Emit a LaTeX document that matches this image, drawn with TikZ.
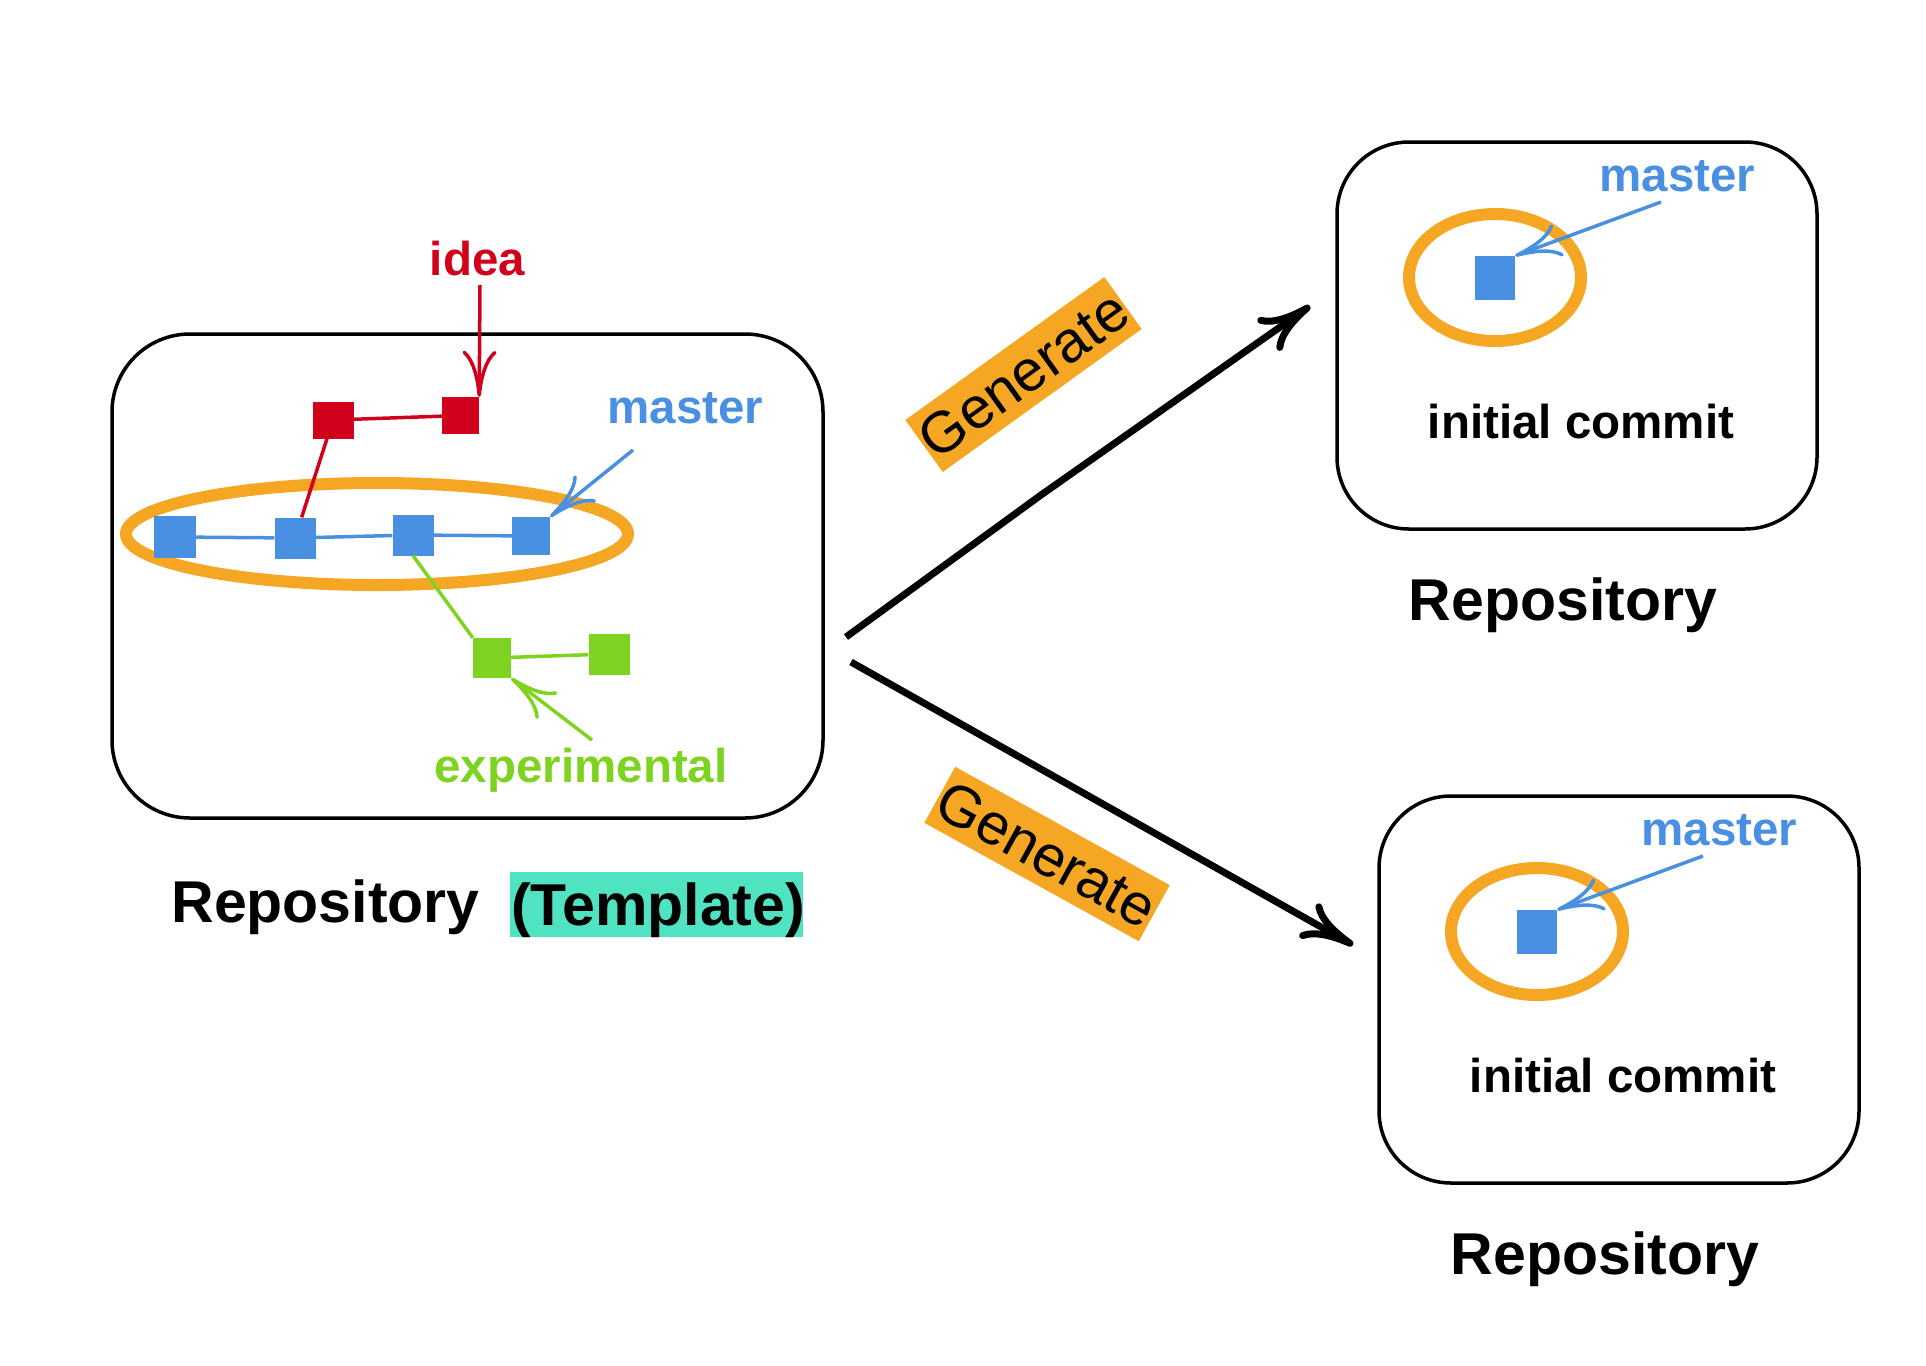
\documentclass[tikz,border=0pt]{standalone}
\usepackage{fontspec}
\setmainfont{Liberation Sans}
\usetikzlibrary{arrows.meta}
\definecolor{cblue}{HTML}{4A90E2}
\definecolor{cred}{HTML}{D0021B}
\definecolor{cgreen}{HTML}{7ED321}
\definecolor{corange}{HTML}{F5A623}
\definecolor{cteal}{HTML}{50E3C2}
\newcommand\fntmed{\fontsize{47.5pt}{57pt}\selectfont\bfseries}
\newcommand\fntbig{\fontsize{59pt}{70pt}\selectfont\bfseries}
\newcommand\fntgen{\fontsize{58pt}{68pt}\selectfont}
\begin{document}
\begin{tikzpicture}[x=1pt,y=-1pt,
  repobox/.style={draw=black, line width=3.5pt, inner sep=0pt},
  commit/.style={inner sep=0pt, draw=none},
  branchline/.style={line width=3.5pt},
  ptr/.style={line width=3.5pt, -{Computer Modern Rightarrow[length=46pt,width=34pt]}},
  bigarr/.style={line width=7pt, -{Computer Modern Rightarrow[length=52pt,width=40pt]}},
  ring/.style={draw=corange, line width=12pt},
  lbl/.style={font=\fntmed, inner sep=0pt, anchor=base},
  title/.style={font=\fntbig, inner sep=0pt, anchor=base},
  gen/.style={fill=corange, font=\fntgen, inner sep=0pt, minimum width=245pt, minimum height=64pt}
]
\useasboundingbox (0,0) rectangle (1926,1365);

% ---------- template repository ----------
\node[repobox, rounded corners=78pt, minimum width=711pt, minimum height=484pt] (tbox) at (467.5,576) {};
\draw[ring] (377,534) ellipse [x radius=251pt, y radius=51pt];

\node[commit, fill=cblue, minimum size=42pt] (b1) at (175,537) {};
\node[commit, fill=cblue, minimum size=41pt] (b2) at (295,538) {};
\node[commit, fill=cblue, minimum size=41pt] (b3) at (413,535) {};
\node[commit, fill=cblue, minimum size=38pt] (b4) at (531,536) {};
\node[commit, fill=cred, minimum width=41pt, minimum height=37pt] (r1) at (333,420) {};
\node[commit, fill=cred, minimum size=37pt] (r2) at (460.5,415.5) {};
\node[commit, fill=cgreen, minimum width=38pt, minimum height=40pt] (g1) at (492,658) {};
\node[commit, fill=cgreen, minimum size=41pt] (g2) at (609,654) {};

\draw[branchline, cblue] (b1) -- (b2) -- (b3) -- (b4);
\draw[branchline, cred] (r1) -- (r2);
\draw[branchline, cred] (r1) -- (b2);
\draw[branchline, cgreen] (b3.south) -- (g1.north west);
\draw[branchline, cgreen] (g1) -- (g2);

\node[lbl, text=cred] (idea) at (477.5,275) {idea};
\node[lbl, text=cblue] (mlabel) at (685.5,423) {master};
\node[lbl, text=cgreen] (elabel) at (581,782) {experimental};

\coordinate (ideatail) at (480,285);
\draw[ptr, cred] (ideatail) -- (r2.north east);
\coordinate (mtail) at (633,450);
\draw[ptr, cblue] (mtail) -- (b4.north east);
\coordinate (etail) at (592,740);
\draw[ptr, cgreen] (etail) -- (g1.south east);

\node[title] (trepo) at (325.5,922) {Repository};
\node[fill=cteal, minimum width=293pt, minimum height=65pt, inner sep=0pt] (tmplbg) at (656.5,904.5) {};
\node[title] (tmpl) at (658,925) {(Template)};

% ---------- generated repository 1 ----------
\node[repobox, rounded corners=72pt, minimum width=480pt, minimum height=387pt] (rbox1) at (1577,335.5) {};
\draw[ring] (1495,277.5) ellipse [x radius=86pt, y radius=63.5pt];
\node[commit, fill=cblue, minimum width=40pt, minimum height=44pt] (c1) at (1495,278) {};
\node[lbl, text=cblue] (m1) at (1677.5,191) {master};
\coordinate (m1tail) at (1661,202);
\draw[ptr, cblue] (m1tail) -- (c1.north east);
\node[lbl] (ic1) at (1581,438) {initial commit};
\node[title] (rp1) at (1563,620) {Repository};

% ---------- generated repository 2 ----------
\node[repobox, rounded corners=72pt, minimum width=480pt, minimum height=387pt] (rbox2) at (1619,989.5) {};
\draw[ring] (1537,931.5) ellipse [x radius=86pt, y radius=63.5pt];
\node[commit, fill=cblue, minimum width=40pt, minimum height=44pt] (c2) at (1537,932) {};
\node[lbl, text=cblue] (m2) at (1719.5,845) {master};
\coordinate (m2tail) at (1703,856);
\draw[ptr, cblue] (m2tail) -- (c2.north east);
\node[lbl] (ic2) at (1623,1092) {initial commit};
\node[title] (rp2) at (1605,1274) {Repository};

% ---------- generate arrows ----------
\coordinate (a1s) at (846,637);
\coordinate (a1k) at (1041,495);
\coordinate (a1e) at (1310,306);
\draw[bigarr] (a1s) -- (a1k) -- (a1e);
\coordinate (a2s) at (851,662);
\coordinate (a2e) at (1353,945);
\draw[bigarr] (a2s) -- (a2e);

\node[gen, rotate=35.7] (gen1) at (1023.5,374.5) {Generate};
\node[gen, rotate=-28.9] (gen2) at (1047,854) {Generate};
\end{tikzpicture}
\end{document}
